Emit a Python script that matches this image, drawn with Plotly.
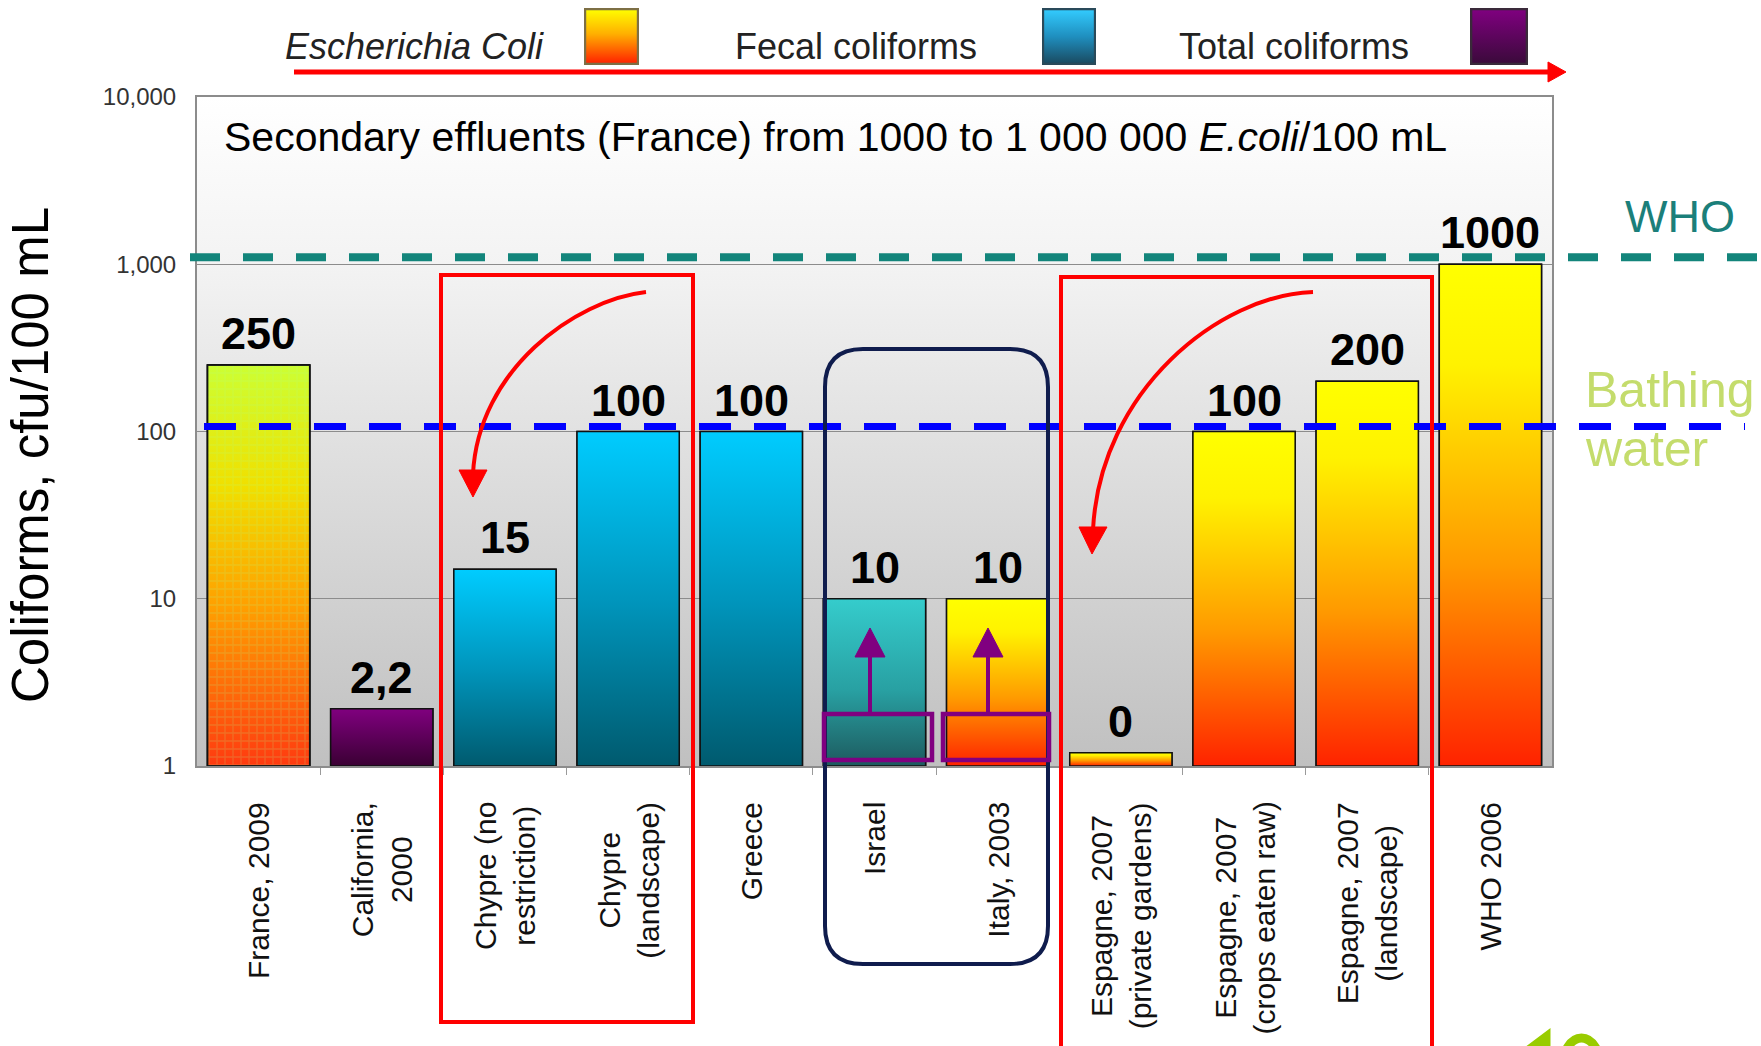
import base64
import math

import plotly.graph_objects as go

# ---------------------------------------------------------------- data
categories = [
    "France, 2009",
    "California,<br>2000",
    "Chypre (no<br>restriction)",
    "Chypre<br>(landscape)",
    "Greece",
    "Israel",
    "Italy, 2003",
    "Espagne, 2007<br>(private gardens)",
    "Espagne, 2007<br>(crops eaten raw)",
    "Espagne, 2007<br>(landscape)",
    "WHO 2006",
]
limits = [250, 2.2, 15, 100, 100, 10, 10, 0, 100, 200, 1000]
indicator = [
    "E. coli",
    "Total coliforms",
    "Fecal coliforms",
    "Fecal coliforms",
    "Fecal coliforms",
    "Fecal coliforms",
    "E. coli",
    "E. coli",
    "E. coli",
    "E. coli",
    "E. coli",
]
y_tick_values = [1, 10, 100, 1000, 10000]
y_tick_labels = ["1", "10", "100", "1,000", "10,000"]
who_limit = 1000
bathing_limit = 100

legend_labels = ["<i>Escherichia Coli</i>", "Fecal coliforms", "Total coliforms"]
note_text = "Secondary effluents (France) from 1000 to 1 000 000 <i>E.coli</i>/100 mL"

# ---------------------------------------------------------------- styling
FONT = "Arial, Liberation Sans, sans-serif"
FIG_W, FIG_H = 1761, 1046
MARGIN = dict(l=197, r=209, t=97, b=280)
PLOT_W = FIG_W - MARGIN["l"] - MARGIN["r"]
PLOT_H = FIG_H - MARGIN["t"] - MARGIN["b"]
BAR_WIDTH = 0.83
AXIS_MIN = 1          # bottom of the log axis (10^0)
ZERO_STUB = 1.2       # a zero limit still gets a thin visible stub on the log axis

# colour stops listed from the top of a bar (0) to its foot (1)
GRADIENTS = {
    "E. coli": [[0, "#ffff00"], [0.2, "#fff200"], [0.6, "#ff9900"], [1, "#ff2200"]],
    "Fecal coliforms": [[0, "#00ccff"], [0.5, "#0096bd"], [1, "#005a6e"]],
    "Total coliforms": [[0, "#80007f"], [1, "#3a0033"]],
}
SHADING_OVERRIDE = {
    "France, 2009": [[0, "#ccff33"], [0.3, "#f0e000"], [0.6, "#ffa000"], [1, "#ff3a10"]],
    "Israel": [[0, "#35cccc"], [0.55, "#28a0a2"], [1, "#1d5a5e"]],
}
SOLID = {"E. coli": "#ff9900", "Fecal coliforms": "#0096bd", "Total coliforms": "#5a0058"}


def top_down(scale):
    """fillgradient runs from the foot of the fill upwards; flip a top-first scale."""
    return [[round(1 - p, 4), c] for p, c in reversed(scale)]


def px(x):
    """Figure pixel column -> paper x."""
    return (x - MARGIN["l"]) / PLOT_W


def py(y):
    """Figure pixel row -> paper y."""
    return (FIG_H - MARGIN["b"] - y) / PLOT_H


def fr_number(v):
    return f"{v:g}".replace(".", ",")


def svg_gradient(stops, stroke=None, stroke_w=0):
    stop_xml = "".join(f'<stop offset="{o * 100:.0f}%" stop-color="{c}"/>' for o, c in stops)
    if stroke:
        rect = (f'<rect x="2" y="2" width="96" height="96" fill="url(#g)" '
                f'stroke="{stroke}" stroke-width="{stroke_w}"/>')
    else:
        rect = '<rect x="0" y="0" width="100" height="100" fill="url(#g)"/>'
    svg = ('<svg xmlns="http://www.w3.org/2000/svg" width="100" height="100" '
           'viewBox="0 0 100 100" preserveAspectRatio="none">'
           f'<defs><linearGradient id="g" x1="0" y1="0" x2="0" y2="1">{stop_xml}</linearGradient></defs>'
           f'{rect}</svg>')
    return "data:image/svg+xml;base64," + base64.b64encode(svg.encode()).decode()


fig = go.Figure()
n = len(categories)
xpos = list(range(n))
shown = [v if v > 0 else ZERO_STUB for v in limits]

# plain bars (data carrier) ...
fig.add_trace(go.Bar(
    x=xpos, y=shown, width=BAR_WIDTH,
    marker=dict(color=[SOLID[k] for k in indicator], line=dict(color="#111111", width=1.5)),
    hoverinfo="skip", showlegend=False,
))

# ... with a vertical colour gradient laid over each one
for i, (cat, h, ind) in enumerate(zip(categories, shown, indicator)):
    x0, x1 = i - BAR_WIDTH / 2, i + BAR_WIDTH / 2
    scale = top_down(SHADING_OVERRIDE.get(cat, GRADIENTS[ind]))
    fig.add_trace(go.Scatter(
        x=[x0, x1, x1, x0, x0], y=[AXIS_MIN, AXIS_MIN, h, h, AXIS_MIN],
        mode="lines", fill="toself",
        fillgradient=dict(type="vertical", colorscale=scale),
        line=dict(color="#111111", width=1.5),
        hoverinfo="skip", showlegend=False,
    ))
    if cat == "France, 2009":
        fig.add_trace(go.Scatter(
            x=[x0, x1, x1, x0, x0], y=[AXIS_MIN, AXIS_MIN, h, h, AXIS_MIN],
            mode="lines", fill="toself", fillcolor="rgba(0,0,0,0)",
            fillpattern=dict(shape="+", size=8, solidity=0.3,
                             fgcolor="rgba(170,255,140,0.35)", bgcolor="rgba(0,0,0,0)"),
            line=dict(color="#111111", width=1.5),
            hoverinfo="skip", showlegend=False,
        ))

# value labels above bars
for i, (v, h) in enumerate(zip(limits, shown)):
    fig.add_annotation(
        x=i, y=math.log10(h), xref="x", yref="y", text=f"<b>{fr_number(v)}</b>",
        showarrow=False, yanchor="bottom", yshift=4,
        font=dict(family=FONT, size=45, color="#000000"),
    )

# rotated category labels
for i, cat in enumerate(categories):
    fig.add_annotation(
        x=i, y=py(800), xref="x", yref="paper", text=cat, textangle=-90,
        showarrow=False, yanchor="top", xanchor="center", align="center",
        font=dict(family=FONT, size=30, color="#111111"),
    )

# y axis title
fig.add_annotation(
    x=px(30), y=py(455), xref="paper", yref="paper", text="Coliforms, cfu/100 mL",
    textangle=-90, showarrow=False, xanchor="center", yanchor="middle",
    font=dict(family=FONT, size=51, color="#000000"),
)

# note inside the plot
fig.add_annotation(
    x=px(222), y=py(137), xref="paper", yref="paper", text=note_text,
    showarrow=False, xanchor="left", yanchor="middle",
    font=dict(family=FONT, size=41, color="#000000"),
)

# legend row
legend_text_x = [283, 733, 1177]
swatch_x = [(584, 639), (1042, 1096), (1470, 1528)]
swatch_fill = [
    ([(0, "#ffff00"), (0.45, "#ffb000"), (1, "#ff2000")], "#7d6f45"),
    ([(0, "#33ccff"), (0.5, "#1f8fbf"), (1, "#1a4a60")], "#2a4a5a"),
    ([(0, "#800080"), (1, "#3a0a3a")], "#3a2a3a"),
]
images = []
for label, tx, (sx0, sx1), (stops, edge) in zip(legend_labels, legend_text_x, swatch_x, swatch_fill):
    fig.add_annotation(
        x=px(tx), y=py(46), xref="paper", yref="paper", text=label,
        showarrow=False, xanchor="left", yanchor="middle",
        font=dict(family=FONT, size=36, color="#222222"),
    )
    images.append(dict(
        source=svg_gradient(stops, stroke=edge, stroke_w=4),
        xref="paper", yref="paper", x=px(sx0), y=py(8),
        sizex=px(sx1) - px(sx0), sizey=py(8) - py(65),
        xanchor="left", yanchor="top", sizing="stretch", layer="above",
    ))

# plot-area background gradient
images.append(dict(
    source=svg_gradient([(0, "#ffffff"), (0.25, "#f3f3f3"), (0.55, "#dedede"), (1, "#c0c0c0")]),
    xref="paper", yref="paper", x=0, y=1, sizex=1, sizey=1,
    xanchor="left", yanchor="top", sizing="stretch", layer="below",
))

# threshold labels
fig.add_annotation(x=px(1623), y=py(216), xref="paper", yref="paper", text="WHO",
                   showarrow=False, xanchor="left", yanchor="middle",
                   font=dict(family=FONT, size=45, color="#1b7f7a"))
fig.add_annotation(x=px(1583), y=py(390), xref="paper", yref="paper", text="Bathing",
                   showarrow=False, xanchor="left", yanchor="middle",
                   font=dict(family=FONT, size=50, color="#c4dc6c"))
fig.add_annotation(x=px(1583), y=py(449), xref="paper", yref="paper", text="water",
                   showarrow=False, xanchor="left", yanchor="middle",
                   font=dict(family=FONT, size=50, color="#c4dc6c"))

shapes = []

# threshold lines, lifted a few pixels off their gridline
shapes.append(dict(type="line", xref="paper", yref="y", x0=px(190), x1=px(FIG_W),
                   ysizemode="pixel", yanchor=who_limit, y0=7, y1=7,
                   line=dict(color="#13857b", width=8, dash="30px,23px"), layer="above"))
shapes.append(dict(type="line", xref="paper", yref="y", x0=px(204), x1=px(1745),
                   ysizemode="pixel", yanchor=bathing_limit, y0=5, y1=5,
                   line=dict(color="#0000ff", width=7, dash="32px,23px"), layer="above"))


def pth(points, cmd):
    return cmd.format(*[f"{v:.5f}" for p in points for v in (px(p[0]), py(p[1]))])


def tri(a, b, c):
    return pth([a, b, c], "M {},{} L {},{} L {},{} Z")


RED = "#ff0000"
# red group frames
shapes.append(dict(type="rect", xref="paper", yref="paper", x0=px(441), x1=px(693),
                   y0=py(1022), y1=py(275), line=dict(color=RED, width=4), layer="above"))
shapes.append(dict(type="rect", xref="paper", yref="paper", x0=px(1061), x1=px(1432),
                   y0=py(1070), y1=py(277), line=dict(color=RED, width=4), layer="above"))

# curved red arrows
for start, c1, c2, end, head in [
    ((646, 292), (575, 300), (478, 370), (473, 474), ((459, 470), (487, 470), (473, 497))),
    ((1313, 292), (1220, 295), (1100, 390), (1093, 530), ((1079, 527), (1107, 527), (1092, 554))),
]:
    shapes.append(dict(type="path", xref="paper", yref="paper",
                       path=pth([start, c1, c2, end], "M {},{} C {},{} {},{} {},{}"),
                       line=dict(color=RED, width=4), layer="above"))
    shapes.append(dict(type="path", xref="paper", yref="paper", path=tri(*head),
                       fillcolor=RED, line=dict(color=RED, width=1), layer="above"))

# rounded navy frame around Israel / Italy
nx0, nx1, ny0, ny1, r = 825, 1048, 349, 964, 38
rounded = pth(
    [(nx0 + r, ny0), (nx1 - r, ny0), (nx1, ny0), (nx1, ny0 + r), (nx1, ny1 - r), (nx1, ny1),
     (nx1 - r, ny1), (nx0 + r, ny1), (nx0, ny1), (nx0, ny1 - r), (nx0, ny0 + r), (nx0, ny0),
     (nx0 + r, ny0)],
    "M {},{} L {},{} Q {},{} {},{} L {},{} Q {},{} {},{} L {},{} Q {},{} {},{} L {},{} Q {},{} {},{} Z",
)
shapes.append(dict(type="path", xref="paper", yref="paper", path=rounded,
                   line=dict(color="#0f1c4d", width=4), layer="above"))

# purple boxes with upward arrows
PURPLE = "#800080"
for bx0, bx1, ax in [(824, 932, 870), (943, 1049, 988)]:
    shapes.append(dict(type="rect", xref="paper", yref="paper", x0=px(bx0), x1=px(bx1),
                       y0=py(760), y1=py(714), line=dict(color=PURPLE, width=4.5), layer="above"))
    shapes.append(dict(type="line", xref="paper", yref="paper", x0=px(ax), x1=px(ax),
                       y0=py(714), y1=py(655), line=dict(color=PURPLE, width=4), layer="above"))
    shapes.append(dict(type="path", xref="paper", yref="paper",
                       path=tri((ax - 15, 657), (ax + 15, 657), (ax, 628)),
                       fillcolor=PURPLE, line=dict(color=PURPLE, width=1), layer="above"))

# red arrow under the legend row
shapes.append(dict(type="line", xref="paper", yref="paper", x0=px(294), x1=px(1552),
                   y0=py(72), y1=py(72), line=dict(color=RED, width=5), layer="above"))
shapes.append(dict(type="path", xref="paper", yref="paper",
                   path=tri((1548, 62), (1548, 82), (1566, 72)),
                   fillcolor=RED, line=dict(color=RED, width=1), layer="above"))

# green page-number strokes peeking in at the bottom edge
GREEN = "#99cc00"
shapes.append(dict(type="circle", xref="paper", yref="paper",
                   x0=px(1562), x1=px(1601), y0=py(1100), y1=py(1038),
                   line=dict(color=GREEN, width=9), layer="above"))
shapes.append(dict(type="path", xref="paper", yref="paper",
                   path=pth([(1526, 1052), (1546, 1037), (1546, 1070)], "M {},{} L {},{} L {},{}"),
                   line=dict(color=GREEN, width=9), layer="above"))

fig.update_layout(
    width=FIG_W, height=FIG_H, margin=MARGIN,
    paper_bgcolor="white", plot_bgcolor="rgba(0,0,0,0)",
    font=dict(family=FONT, color="#222222"),
    showlegend=False,
    xaxis=dict(
        range=[-0.5, n - 0.5], tickvals=[i + 0.5 for i in range(n - 1)],
        ticks="outside", ticklen=7, tickcolor="#9a9a9a", showticklabels=False,
        showgrid=False, zeroline=False, showline=True, mirror=True,
        linecolor="#8c8c8c", linewidth=2,
    ),
    yaxis=dict(
        type="log", range=[0, 4], tickvals=y_tick_values, ticktext=y_tick_labels,
        tickfont=dict(family=FONT, size=24, color="#333333"),
        showgrid=True, gridcolor="#8c8c8c", gridwidth=1, zeroline=False,
        showline=True, mirror=True, linecolor="#8c8c8c", linewidth=2,
        ticks="", ticklabelstandoff=14,
    ),
    images=images,
    shapes=shapes,
)

fig.write_html("out.html")
